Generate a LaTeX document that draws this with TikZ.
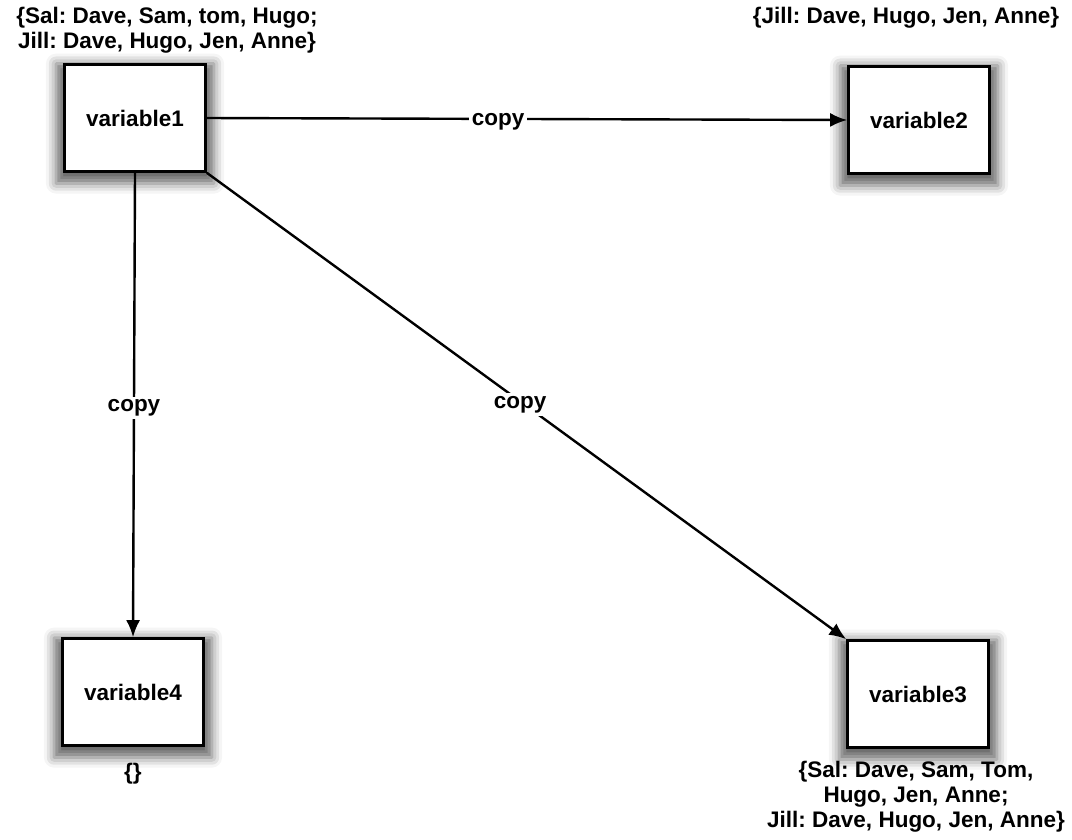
\documentclass[tikz,border=0pt]{standalone}
\usepackage{fontspec}
\setmainfont{Liberation Sans}
\usetikzlibrary{arrows.meta,shadows.blur}
\begin{document}
\begin{tikzpicture}[x=1pt,y=-1pt,
  txt/.style={font=\fontsize{22.5}{25}\selectfont\bfseries\frenchspacing},
  varbox/.style={txt, draw=black, line width=2.6pt, fill=white, minimum width=141pt,
    minimum height=107pt, inner sep=0pt,
    blur shadow={shadow xshift=0pt, shadow yshift=-5pt, shadow scale=1.12,
      shadow blur radius=9pt, shadow opacity=60}},
  setlabel/.style={txt, align=center, inner sep=0pt},
  link/.style={line width=2.4pt, -{Latex[length=17pt,width=14pt]}},
  linklabel/.style={txt, fill=white, inner sep=3pt, yshift=-3pt}]
  \useasboundingbox (0,0) rectangle (1072,839);

  % the four variables
  \node[varbox] (v1) at (135,118) {variable1};
  \node[varbox] (v2) at (919,120) {variable2};
  \node[varbox] (v4) at (133,692) {variable4};
  \node[varbox] (v3) at (918,694) {variable3};

  % their contents
  \node[setlabel] (s1) at (167,30) {\{Sal: Dave, Sam, tom, Hugo;\\Jill: Dave, Hugo, Jen, Anne\}};
  \node[setlabel] (s2) at (906,18) {\{Jill: Dave, Hugo, Jen, Anne\}};
  \node[setlabel] (s4) at (133,774) {\{\}};
  \node[setlabel] (s3) at (916,797) {\{Sal: Dave, Sam, Tom,\\Hugo, Jen, Anne;\\Jill: Dave, Hugo, Jen, Anne\}};

  % copy operations
  \draw[link] (v1.east) -- node[linklabel, pos=0.455] {copy} (v2.west);
  \draw[link] (v1.south) -- node[linklabel] {copy} (v4.north);
  \draw[link] (v1.south east) -- node[linklabel, pos=0.49] {copy} (v3.north west);
\end{tikzpicture}
\end{document}
